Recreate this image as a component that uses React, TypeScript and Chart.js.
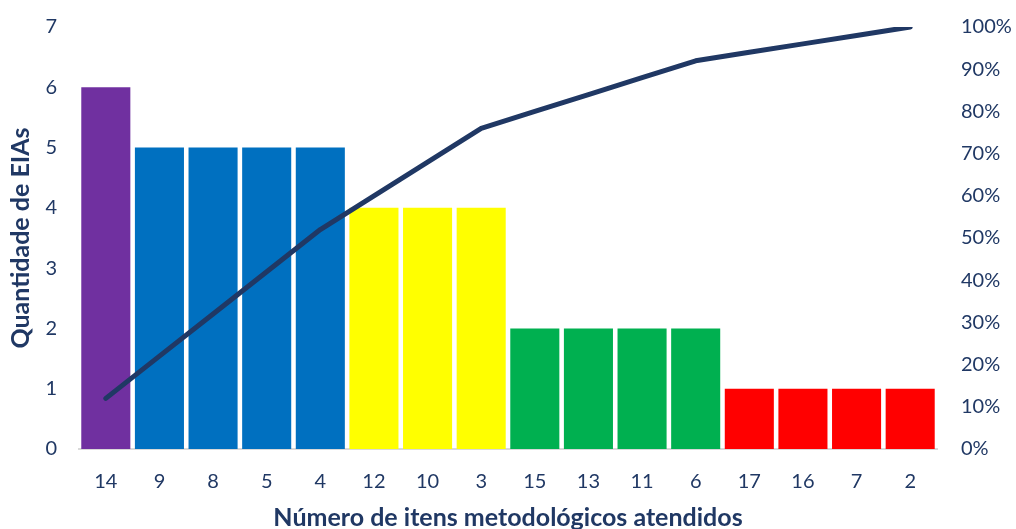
import React, { useEffect, useRef } from "react";
import { Chart, registerables } from "chart.js";

Chart.register(...registerables);

const categories = ["14", "9", "8", "5", "4", "12", "10", "3", "15", "13", "11", "6", "17", "16", "7", "2"];
const counts = [6, 5, 5, 5, 5, 4, 4, 4, 2, 2, 2, 2, 1, 1, 1, 1];
const cumulativePct = [0.12, 0.22, 0.32, 0.42, 0.52, 0.6, 0.68, 0.76, 0.8, 0.84, 0.88, 0.92, 0.94, 0.96, 0.98, 1.0];
const barColors = [
  "#7030A0",
  "#0070C0", "#0070C0", "#0070C0", "#0070C0",
  "#FFFF00", "#FFFF00", "#FFFF00",
  "#00B050", "#00B050", "#00B050", "#00B050",
  "#FF0000", "#FF0000", "#FF0000", "#FF0000",
];
const yTitle = "Quantidade de EIAs";
const xTitle = "Número de itens metodológicos atendidos";

const NAVY = "#203864";
const FONT = "Lato, 'Open Sans', sans-serif";

export default function App() {
  const ref = useRef<HTMLCanvasElement | null>(null);
  useEffect(() => {
    document.body.style.margin = "0";
    const chart = new Chart(ref.current!, {
      type: "bar",
      data: {
        labels: categories,
        datasets: [
          {
            type: "line",
            data: cumulativePct,
            yAxisID: "y1",
            borderColor: NAVY,
            borderWidth: 5,
            pointRadius: 0,
            tension: 0,
            borderCapStyle: "round",
            borderJoinStyle: "round",
            order: 0,
          } as any,
          {
            type: "bar",
            data: counts,
            yAxisID: "y",
            backgroundColor: barColors,
            barPercentage: 0.915,
            categoryPercentage: 1,
            order: 1,
          },
        ],
      },
      options: {
        responsive: false,
        animation: false,
        layout: { autoPadding: false, padding: { top: 27, right: 0, left: 0, bottom: 0 } },
        plugins: { legend: { display: false }, tooltip: { enabled: false } },
        scales: {
          x: {
            grid: { display: false, drawTicks: false },
            border: { display: true, color: "#D9D9D9", width: 2 },
            ticks: { color: NAVY, font: { family: FONT, size: 20 }, padding: 21 },
            title: {
              display: true,
              text: xTitle,
              color: NAVY,
              font: { family: FONT, size: 25, weight: "bold", lineHeight: 0.9 },
              padding: { top: 0, bottom: 0 },
            },
            afterFit: (s: any) => {
              s.height = 80;
              s.paddingLeft = 0;
              s.paddingRight = 0;
            },
          },
          y: {
            min: 0,
            max: 7,
            ticks: { stepSize: 1, color: NAVY, font: { family: FONT, size: 20 }, padding: 22 },
            grid: { display: false, drawTicks: false },
            border: { display: false },
            title: {
              display: true,
              text: yTitle,
              color: NAVY,
              font: { family: FONT, size: 25, weight: "bold", lineHeight: 0.9 },
              padding: { top: 10, bottom: 0 },
            },
            afterFit: (s: any) => {
              s.width = 79;
              s.paddingTop = 0;
              s.paddingBottom = 0;
            },
          },
          y1: {
            position: "right",
            min: 0,
            max: 1,
            ticks: {
              stepSize: 0.1,
              color: NAVY,
              font: { family: FONT, size: 20 },
              padding: 24,
              callback: (v: any) => Math.round(Number(v) * 100) + "%",
            },
            grid: { display: false, drawTicks: false },
            border: { display: false },
            afterFit: (s: any) => {
              s.width = 79;
              s.paddingTop = 0;
              s.paddingBottom = 0;
            },
          },
        },
      },
    });
    return () => chart.destroy();
  }, []);
  return <canvas ref={ref} width={1016} height={529} style={{ display: "block" }} />;
}
